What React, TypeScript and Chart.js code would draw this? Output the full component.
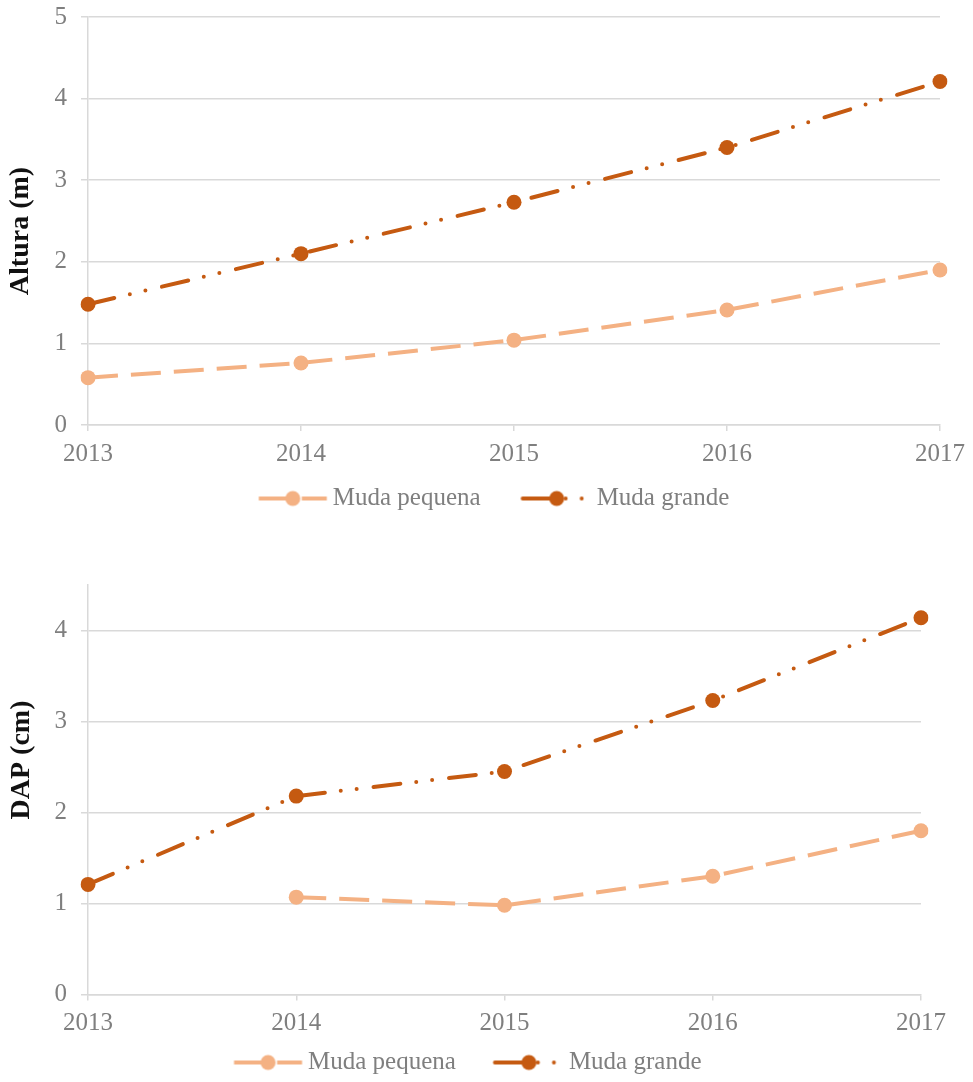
import React, { useEffect, useRef } from "react";
import { Chart, registerables } from "chart.js";

Chart.register(...registerables);

// ---- data ----
const years = ["2013", "2014", "2015", "2016", "2017"];
const seriesNames = ["Muda pequena", "Muda grande"];
const alturaPequena = [0.58, 0.76, 1.04, 1.41, 1.9];
const alturaGrande = [1.48, 2.1, 2.73, 3.4, 4.21];
const dapPequena = [null, 1.07, 0.98, 1.3, 1.8];
const dapGrande = [1.21, 2.18, 2.45, 3.23, 4.14];
const alturaTitle = "Altura (m)";
const dapTitle = "DAP (cm)";

// ---- styles ----
const COLOR_SMALL = "#F4B183";
const COLOR_BIG = "#C55A11";
const GRID = "#d9d9d9";
const TICK_COLOR = "#7f7f7f";
const FONT = '"Liberation Serif", "Times New Roman", serif';
const DASH_SMALL = [30, 13];
const DASH_BIG = [27, 16, 0, 16, 0, 17];

function makeLegendIcon(color: string, dash: number[], cap: CanvasLineCap, a: number) {
  const W = a + 63.5;
  const c = document.createElement("canvas");
  c.width = Math.round(W + 20);
  c.height = 20;
  const off = (c.width - W) / 2;
  const ctx = c.getContext("2d")!;
  ctx.strokeStyle = color;
  ctx.lineWidth = 4;
  ctx.lineCap = cap;
  ctx.setLineDash(dash);
  ctx.beginPath();
  ctx.moveTo(off + a + 2, 10);
  ctx.lineTo(off + a + 70, 10);
  ctx.stroke();
  ctx.setLineDash([]);
  ctx.fillStyle = color;
  ctx.beginPath();
  ctx.arc(off + a + 36, 10, 7.5, 0, Math.PI * 2);
  ctx.fill();
  return c;
}

const yTitlePlugin = {
  id: "yTitleCustom",
  afterDraw(chart: any, _args: any, opts: any) {
    const ctx = chart.ctx;
    ctx.save();
    ctx.translate(opts.x, opts.y);
    ctx.rotate(-Math.PI / 2);
    ctx.font = `bold 28px ${FONT}`;
    ctx.fillStyle = "#111111";
    ctx.textAlign = "center";
    ctx.textBaseline = "middle";
    ctx.fillText(opts.text, 0, 0);
    ctx.restore();
  },
};

type Cfg = {
  small: (number | null)[];
  big: (number | null)[];
  yMax: number;
  title: string;
  titleX: number;
  titleY: number;
  padding: { left: number; right: number; top: number; bottom: number };
  yWidth: number;
  xHeight: number;
  legendPad: number;
  iconShift: number;
};

function buildChart(canvas: HTMLCanvasElement, cfg: Cfg) {
  const icons = [
    makeLegendIcon(COLOR_SMALL, DASH_SMALL, "butt", cfg.iconShift),
    makeLegendIcon(COLOR_BIG, DASH_BIG, "round", cfg.iconShift),
  ];
  return new Chart(canvas, {
    type: "line",
    data: {
      labels: years,
      datasets: [
        {
          label: seriesNames[0],
          data: cfg.small,
          borderColor: COLOR_SMALL,
          backgroundColor: COLOR_SMALL,
          borderWidth: 4,
          borderDash: DASH_SMALL,
          borderCapStyle: "butt",
          pointRadius: 7.5,
          pointBorderWidth: 0,
          pointBackgroundColor: COLOR_SMALL,
          tension: 0,
        },
        {
          label: seriesNames[1],
          data: cfg.big,
          borderColor: COLOR_BIG,
          backgroundColor: COLOR_BIG,
          borderWidth: 4,
          borderDash: DASH_BIG,
          borderCapStyle: "round",
          pointRadius: 7.5,
          pointBorderWidth: 0,
          pointBackgroundColor: COLOR_BIG,
          tension: 0,
        },
      ],
    },
    options: {
      animation: false,
      responsive: false,
      devicePixelRatio: 1,
      layout: { padding: cfg.padding },
      plugins: {
        tooltip: { enabled: false },
        legend: {
          position: "bottom",
          labels: {
            usePointStyle: true,
            pointStyleWidth: cfg.iconShift + 63.5,
            padding: cfg.legendPad,
            color: TICK_COLOR,
            font: { family: FONT, size: 25 },
            generateLabels: (chart: any) =>
              Chart.defaults.plugins.legend.labels
                .generateLabels(chart)
                .map((l: any, i: number) => ({ ...l, pointStyle: icons[i], fontColor: TICK_COLOR })),
          },
        },
        yTitleCustom: { text: cfg.title, x: cfg.titleX, y: cfg.titleY },
      } as any,
      scales: {
        x: {
          offset: false,
          grid: {
            display: true,
            drawOnChartArea: false,
            drawTicks: true,
            tickLength: 6,
            color: GRID,
            lineWidth: 1.5,
          },
          border: { display: true, color: GRID, width: 1.5 },
          ticks: {
            color: TICK_COLOR,
            font: { family: FONT, size: 25 },
            padding: 8,
            maxRotation: 0,
            autoSkip: false,
          },
          afterFit: (scale: any) => {
            scale.height = cfg.xHeight;
          },
        },
        y: {
          min: 0,
          max: cfg.yMax,
          grid: {
            color: GRID,
            lineWidth: 1.5,
            drawTicks: true,
            tickLength: 7,
          },
          border: { display: true, color: GRID, width: 1.5 },
          ticks: {
            stepSize: 1,
            color: TICK_COLOR,
            font: { family: FONT, size: 25 },
            padding: 14,
          },
          afterBuildTicks: (scale: any) => {
            scale.ticks = scale.ticks.filter((t: any) => Number.isInteger(t.value));
          },
          afterFit: (scale: any) => {
            scale.width = cfg.yWidth;
          },
        },
      },
    },
    plugins: [yTitlePlugin],
  } as any);
}

export default function App() {
  const topRef = useRef<HTMLCanvasElement>(null);
  const botRef = useRef<HTMLCanvasElement>(null);

  useEffect(() => {
    const c1 = buildChart(topRef.current!, {
      small: alturaPequena,
      big: alturaGrande,
      yMax: 5,
      title: alturaTitle,
      titleX: 21,
      titleY: 231 + 12,
      padding: { left: 21, right: 33, top: 16, bottom: 0 },
      yWidth: 67,
      xHeight: 46,
      legendPad: 15,
      iconShift: 25,
    });
    const c2 = buildChart(botRef.current!, {
      small: dapPequena,
      big: dapGrande,
      yMax: 4.5,
      title: dapTitle,
      titleX: 22 + 24,
      titleY: 760 - 545,
      padding: { left: 9, right: 52, top: 40, bottom: 0 },
      yWidth: 103,
      xHeight: 46,
      legendPad: 9.5,
      iconShift: 27.5,
    });
    return () => {
      c1.destroy();
      c2.destroy();
    };
  }, []);

  return (
    <div
      style={{
        position: "absolute",
        left: 0,
        top: 0,
        width: 973,
        height: 1082,
        overflow: "hidden",
        background: "#ffffff",
      }}
    >
      <canvas
        ref={topRef}
        width={973}
        height={533}
        style={{ position: "absolute", left: 0, top: -12, width: 973, height: 533 }}
      />
      <canvas
        ref={botRef}
        width={997}
        height={540}
        style={{ position: "absolute", left: -24, top: 545, width: 997, height: 540 }}
      />
    </div>
  );
}
